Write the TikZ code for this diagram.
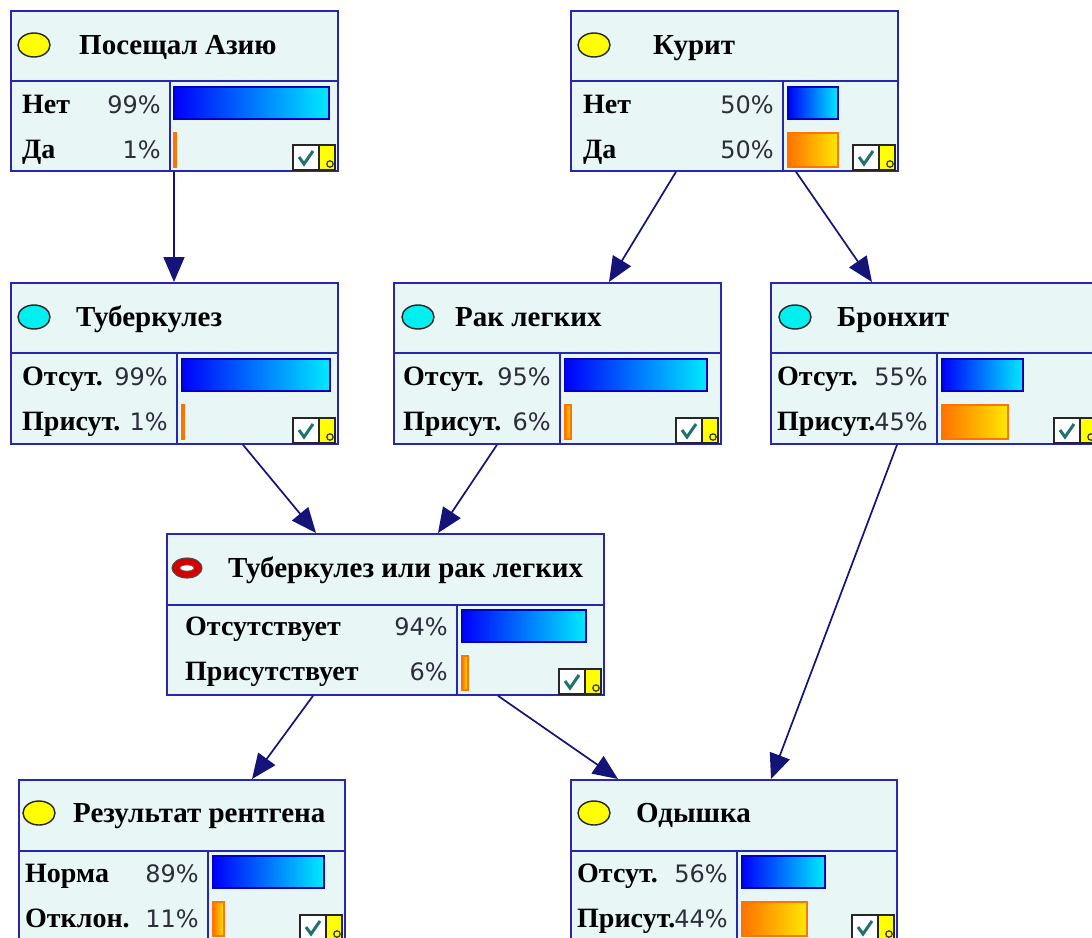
\documentclass[tikz,border=0pt]{standalone}
\usepackage{fontspec}
\setmainfont{Liberation Serif}
\newfontfamily\pctfont{DejaVu Sans}
\usetikzlibrary{calc,arrows.meta,shapes.geometric}
\definecolor{boxfill}{RGB}{232,246,246}
\definecolor{boxline}{RGB}{40,40,175}
\definecolor{arrowcol}{RGB}{20,20,120}
\definecolor{barblue}{RGB}{0,0,250}
\definecolor{barcyan}{RGB}{0,235,255}
\definecolor{barorange}{RGB}{255,115,0}
\definecolor{baryellow}{RGB}{255,232,0}
\definecolor{pctgray}{RGB}{45,45,60}
\definecolor{checkteal}{RGB}{30,115,110}
\definecolor{iconyellow}{RGB}{255,255,0}
\definecolor{iconcyan}{RGB}{0,240,240}
\definecolor{iconred}{RGB}{215,0,0}
\tikzset{
  x=1pt,y=-1pt,
  bnbox/.style={draw=boxline, fill=boxfill, line width=1.8pt, inner sep=0pt, anchor=north west, rectangle},
  bnline/.style={draw=boxline, line width=1.8pt},
  bntitle/.style={anchor=base west, inner sep=0pt, font=\fontsize{29}{29}\selectfont\bfseries},
  bnlabel/.style={anchor=base west, inner sep=0pt, font=\fontsize{28}{28}\selectfont\bfseries},
  bnpct/.style={anchor=base east, inner sep=0pt, font=\fontsize{24}{24}\selectfont\pctfont, text=pctgray},
  bnell/.style={ellipse, draw=black!85, line width=1.4pt, minimum width=32pt, minimum height=24pt, inner sep=0pt},
  link/.style={draw=arrowcol, line width=1.7pt, -{Triangle[length=25pt,width=21pt]}},
}
% #1 name, #2 L, #3 T, #4 R, #5 B, #6 header bottom, #7 divider
\newcommand\bnnode[7]{%
  \node[bnbox, minimum width={#4-#2}, minimum height={#5-#3}] (#1) at (#2,#3) {};
  \draw[bnline] (#2,#6) -- (#4,#6);
  \draw[bnline] (#7,#6) -- (#7,#5);
  \draw[fill=white, draw=black!85, line width=1.2pt] ({#4-44},{#5-25}) rectangle ({#4-18},#5);
  \draw[checkteal, line width=3pt] ({#4-38},{#5-13}) -- ({#4-33},{#5-6}) -- ({#4-24},{#5-19});
  \draw[fill=iconyellow, draw=black!85, line width=1.2pt] ({#4-18},{#5-25}) rectangle ({#4-2},#5);
  \draw[black!80, line width=1.2pt] ({#4-7},{#5-6}) circle (3.2);
}
% #1 name, #2 icon fill, #3 icon x, #4 icon y, #5 title x, #6 title
\newcommand\bnhead[6]{%
  \node[bnell, fill=#2] (#1-icon) at (#3,#4) {};
  \node[bntitle] (#1-title) at (#5,{#4+9}) {#6};
}
% #1 name, #2 label x, #3 pct right x, #4 baseline 1, #5 lab1, #6 pct1, #7 lab2, #8 pct2
\newcommand\bnrows[8]{%
  \node[bnlabel] (#1-l1) at (#2,#4) {#5};
  \node[bnpct] (#1-p1) at (#3,#4) {#6};
  \node[bnlabel] (#1-l2) at (#2,{#4+45}) {#7};
  \node[bnpct] (#1-p2) at (#3,{#4+45}) {#8};
}
% #1 x0, #2 top, #3 end bar 1, #4 end bar 2
\newcommand\bnbars[4]{%
  \shade[left color=barblue, right color=barcyan, draw=blue!75!black, line width=1.3pt] (#1,#2) rectangle (#3,{#2+32});
  \shade[left color=barorange, right color=baryellow, draw=orange!90!red, line width=1.3pt] (#1,{#2+46}) rectangle (#4,{#2+80});
}
\begin{document}
\begin{tikzpicture}
\useasboundingbox (0,0) rectangle (1092,937);
\fill[white] (0,0) rectangle (1092,937);
\clip (0,0) rectangle (1092,937);

% Посещал Азию
\bnnode{asia}{10}{10}{337}{170}{81}{170}
\bnhead{asia}{iconyellow}{34}{45}{79}{Посещал Азию}
\bnrows{asia}{22}{161}{113}{Нет}{99\%}{Да}{1\%}
\bnbars{174}{87}{329}{176}

% Курит
\bnnode{smoke}{570}{10}{897}{170}{81}{783}
\bnhead{smoke}{iconyellow}{594}{45}{653}{Курит}
\bnrows{smoke}{583}{774}{113}{Нет}{50\%}{Да}{50\%}
\bnbars{788}{87}{838}{838}

% Туберкулез
\bnnode{tub}{10}{282}{337}{443}{353}{177}
\bnhead{tub}{iconcyan}{34}{317}{76}{Туберкулез}
\bnrows{tub}{22}{168}{385}{Отсут.}{99\%}{Присут.}{1\%}
\bnbars{182}{359}{330}{184}

% Рак легких
\bnnode{lung}{393}{282}{720}{443}{353}{560}
\bnhead{lung}{iconcyan}{418}{317}{455}{Рак легких}
\bnrows{lung}{403}{551}{385}{Отсут.}{95\%}{Присут.}{6\%}
\bnbars{565}{359}{707}{571}

% Бронхит
\bnnode{bronch}{770}{282}{1098}{443}{353}{937}
\bnhead{bronch}{iconcyan}{795}{317}{837}{Бронхит}
\bnrows{bronch}{777}{928}{385}{Отсут.}{55\%}{Присут.}{45\%}
\bnbars{942}{359}{1023}{1008}

% Туберкулез или рак легких
\bnnode{either}{166}{533}{603}{694}{605}{457}
\node[ellipse, fill=iconred, draw=black!70, line width=1.1pt, minimum width=30pt, minimum height=20pt, inner sep=0pt] (either-icon) at (187,568) {};
\node[ellipse, fill=white, draw=black!60, line width=0.7pt, minimum width=14pt, minimum height=6pt, inner sep=0pt] (either-slot) at (187,568) {};
\node[bntitle] (either-title) at (228,577) {Туберкулез или рак легких};
\bnrows{either}{185}{448}{635}{Отсутствует}{94\%}{Присутствует}{6\%}
\bnbars{462}{610}{586}{468}

% Результат рентгена
\bnnode{xray}{18}{779}{344}{940}{851}{208}
\bnhead{xray}{iconyellow}{39}{813}{73}{Результат рентгена}
\bnrows{xray}{25}{199}{882}{Норма}{89\%}{Отклон.}{11\%}
\bnbars{213}{856}{324}{224}

% Одышка
\bnnode{dysp}{570}{779}{896}{940}{851}{737}
\bnhead{dysp}{iconyellow}{594}{813}{636}{Одышка}
\bnrows{dysp}{577}{728}{882}{Отсут.}{56\%}{Присут.}{44\%}
\bnbars{742}{856}{825}{807}

% connectors
\draw[link] ($(asia.south west)+(164,0)$) -- ($(tub.north west)+(164,0)$);
\draw[link] ($(smoke.south west)+(106,0)$) -- ($(lung.north west)+(216,0)$);
\draw[link] ($(smoke.south west)+(226,0)$) -- ($(bronch.north west)+(102,0)$);
\draw[link] ($(tub.south west)+(233,0)$) -- ($(either.north west)+(150,0)$);
\draw[link] ($(lung.south west)+(104,0)$) -- ($(either.north west)+(272,0)$);
\draw[link] ($(bronch.south west)+(127,0)$) -- ($(dysp.north west)+(201,0)$);
\draw[link] ($(either.south west)+(147,0)$) -- ($(xray.north west)+(234,0)$);
\draw[link] ($(either.south west)+(332,0)$) -- ($(dysp.north west)+(48,0)$);
\end{tikzpicture}
\end{document}
